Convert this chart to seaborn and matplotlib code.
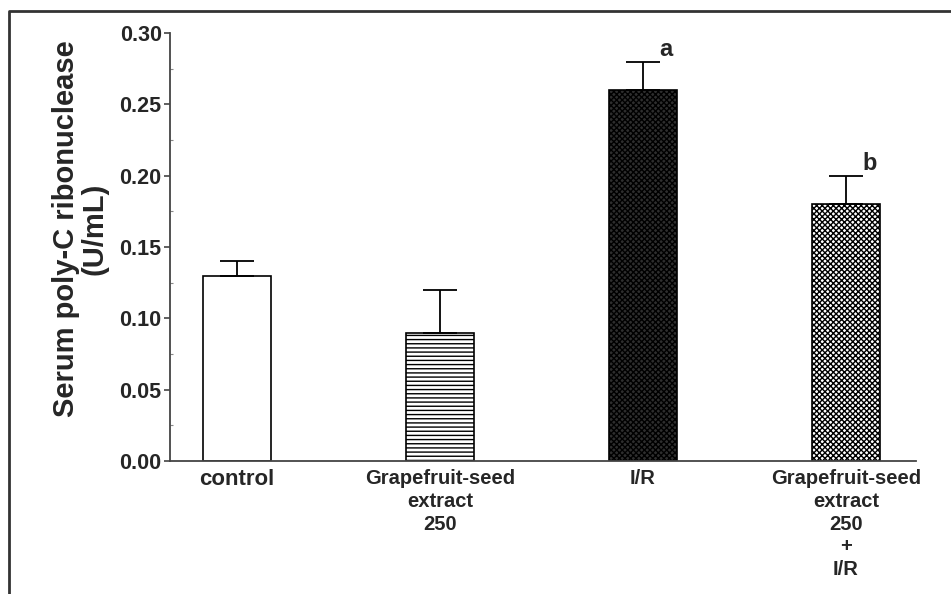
import matplotlib
matplotlib.use("Agg")
import matplotlib.pyplot as plt
from matplotlib.lines import Line2D
from matplotlib.ticker import FixedLocator
import seaborn as sns
import pandas as pd

categories = ["control", "Grapefruit-seed\nextract\n250", "I/R",
              "Grapefruit-seed\nextract\n250\n+\nI/R"]
means = [0.13, 0.09, 0.26, 0.18]
errors = [0.01, 0.03, 0.02, 0.02]
letters = ["", "", "a", "b"]
y_ticks = [0.00, 0.05, 0.10, 0.15, 0.20, 0.25, 0.30]
y_minor = [0.025, 0.075, 0.125, 0.175, 0.225, 0.275]
ylabel = "Serum poly-C ribonuclease\n(U/mL)"

sns.set_style("white")
plt.rcParams["font.family"] = ["Liberation Sans", "DejaVu Sans"]
plt.rcParams["font.weight"] = "bold"
plt.rcParams["hatch.linewidth"] = 1.0

df = pd.DataFrame({"group": categories, "value": means})

fig = plt.figure(figsize=(9.51, 5.94), dpi=100)
ax = fig.add_axes([170/951, 1-461/594, (916-170)/951, (461-33)/594])

face = ["white", "white", "#2e2e2e", "white"]
hatches = [None, "----", "xxxxxx", "xxxxxx"]
sns.barplot(data=df, x="group", y="value", hue="group", palette=face,
            legend=False, width=0.335, errorbar=None, ax=ax,
            edgecolor="black", linewidth=1.2, saturation=1)
for p, h in zip(ax.patches, hatches):
    if h:
        p.set_hatch(h)
    p.set_edgecolor("black")

xs = list(range(len(categories)))
ax.errorbar(xs, means, yerr=[[0]*len(errors), errors], fmt="none",
            ecolor="black", elinewidth=1.3, capsize=12.5, capthick=1.3, zorder=3)
for x, m, e, t in zip(xs, means, errors, letters):
    if t:
        ax.text(x + 0.08, m + e + 0.0005, t, fontsize=17, fontweight="bold",
                ha="left", va="bottom")

ax.set_xlim(-0.33, 3.345)
ax.set_ylim(0, 0.30)
ax.yaxis.set_major_locator(FixedLocator(y_ticks))
ax.yaxis.set_minor_locator(FixedLocator(y_minor))
ax.set_yticklabels([f"{v:.2f}" for v in y_ticks], fontsize=15.5, fontweight="bold")
ax.tick_params(axis="y", which="major", direction="out", length=4, width=1.2,
               color="#444", left=True, pad=2)
ax.tick_params(axis="y", which="minor", direction="in", length=2, width=0.8,
               color="#888", left=True)
ax.tick_params(axis="x", length=0, pad=6)
ax.set_xticks(xs)
ax.set_xticklabels(categories, fontsize=14.5, fontweight="bold", linespacing=1.24)
ax.get_xticklabels()[0].set_fontsize(16)
ax.set_xlabel("")
ax.set_ylabel(ylabel, fontsize=21, fontweight="bold", linespacing=1.0)
ax.yaxis.set_label_coords(-0.083, 0.542)

for s in ["top", "right"]:
    ax.spines[s].set_visible(False)
for s in ["left", "bottom"]:
    ax.spines[s].set_color("#444")
    ax.spines[s].set_linewidth(1.3)

fig.add_artist(Line2D([8.5/951, 8.5/951, 1], [0, 1-10.5/594, 1-10.5/594],
                      transform=fig.transFigure, color="#333", linewidth=2))

fig.savefig("out.png", dpi=100)
